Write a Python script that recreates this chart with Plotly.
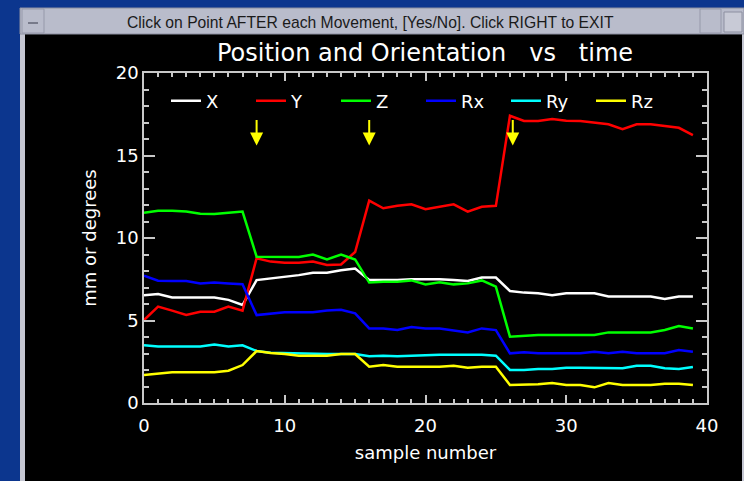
import plotly.graph_objects as go

samples = list(range(40))
pos_x = [6.53, 6.6, 6.4, 6.4, 6.4, 6.4, 6.25, 5.94, 7.45, 7.55, 7.65, 7.75, 7.9, 7.9, 8.05, 8.15,
         7.45, 7.45, 7.45, 7.5, 7.5, 7.5, 7.45, 7.4, 7.6, 7.6, 6.79, 6.69, 6.65, 6.53, 6.65, 6.65,
         6.65, 6.45, 6.45, 6.45, 6.45, 6.3, 6.45, 6.45]
pos_y = [5.03, 5.84, 5.6, 5.33, 5.53, 5.53, 5.84, 5.6, 8.77, 8.57, 8.5, 8.5, 8.57, 8.36, 8.4, 9.15,
         12.26, 11.8, 11.95, 12.04, 11.74, 11.89, 12.04, 11.6, 11.89, 11.95, 17.41, 17.09, 17.09,
         17.21, 17.11, 17.09, 16.99, 16.89, 16.6, 16.89, 16.89, 16.8, 16.68, 16.24]
pos_z = [11.53, 11.65, 11.65, 11.6, 11.47, 11.45, 11.53, 11.6, 8.87, 8.85, 8.85, 8.85, 9.0, 8.7, 9.0, 8.7,
         7.3, 7.35, 7.35, 7.43, 7.19, 7.32, 7.19, 7.25, 7.43, 7.05, 4.02, 4.08, 4.12, 4.12, 4.12, 4.12,
         4.12, 4.28, 4.28, 4.28, 4.28, 4.42, 4.67, 4.52]
rot_x = [7.72, 7.41, 7.4, 7.4, 7.25, 7.3, 7.25, 7.2, 5.33, 5.43, 5.5, 5.5, 5.5, 5.6, 5.65, 5.43,
         4.52, 4.52, 4.42, 4.6, 4.52, 4.52, 4.42, 4.28, 4.52, 4.42, 3.01, 3.07, 3.01, 3.01, 3.01, 3.01,
         3.11, 3.01, 3.11, 3.01, 3.01, 3.01, 3.21, 3.11]
rot_y = [3.5, 3.42, 3.42, 3.42, 3.42, 3.54, 3.42, 3.5, 3.15, 3.05, 3.03, 2.97, 2.97, 2.97, 2.97, 2.97,
         2.83, 2.87, 2.83, 2.87, 2.93, 2.93, 2.93, 2.93, 2.93, 2.87, 2.0, 2.0, 2.06, 2.06, 2.14, 2.14,
         2.14, 2.14, 2.1, 2.26, 2.26, 2.1, 2.06, 2.18]
rot_z = [1.7, 1.76, 1.86, 1.86, 1.86, 1.86, 1.96, 2.3, 3.15, 3.03, 2.97, 2.87, 2.87, 2.87, 2.97, 2.97,
         2.2, 2.3, 2.2, 2.2, 2.2, 2.2, 2.26, 2.14, 2.2, 2.2, 1.09, 1.09, 1.13, 1.21, 1.09, 1.09,
         0.95, 1.21, 1.09, 1.09, 1.09, 1.17, 1.17, 1.09]

series_names = ["X", "Y", "Z", "Rx", "Ry", "Rz"]
series_values = [pos_x, pos_y, pos_z, rot_x, rot_y, rot_z]
series_colors = ["#ffffff", "#ff0000", "#00ff00", "#0000ff", "#00ffff", "#ffff00"]

movement_samples = [8, 16, 26.2]
arrow_top, arrow_tip = 17.25, 15.6

W, H = 744, 481
L, R, T, B = 144, 37, 73, 78
pw, ph = W - L - R, H - T - B

def px(x):
    return (x - L) / pw

def py(y):
    return (H - B - y) / ph

fig = go.Figure()
for name, vals, col in zip(series_names, series_values, series_colors):
    fig.add_trace(go.Scatter(x=samples, y=vals, mode="lines", name=name,
                             line=dict(color=col, width=2.5)))

for s in movement_samples:
    fig.add_annotation(x=s, y=arrow_tip, ax=s, ay=arrow_top, xref="x", yref="y",
                       axref="x", ayref="y", text="", showarrow=True,
                       arrowhead=2, arrowsize=1.3, arrowwidth=2, arrowcolor="#ffff00")

shapes = [
    # window frame
    dict(type="rect", xref="paper", yref="paper", x0=px(20), x1=px(744), y0=py(481), y1=py(8),
         fillcolor="#c4c6d2", line=dict(width=0), layer="below"),
    dict(type="rect", xref="paper", yref="paper", x0=px(25), x1=px(742), y0=py(481), y1=py(34),
         fillcolor="#000000", line=dict(width=0), layer="below"),
    dict(type="rect", xref="paper", yref="paper", x0=px(20), x1=px(744), y0=py(34), y1=py(8),
         fillcolor="#b9bccb", line=dict(color="#8c8fa0", width=1), layer="below"),
    dict(type="rect", xref="paper", yref="paper", x0=px(22), x1=px(44), y0=py(33), y1=py(9),
         fillcolor="#b9bccb", line=dict(color="#9699aa", width=1), layer="below"),
    dict(type="line", xref="paper", yref="paper", x0=px(28), x1=px(38), y0=py(23), y1=py(23),
         line=dict(color="#777a8a", width=2), layer="below"),
    dict(type="rect", xref="paper", yref="paper", x0=px(700), x1=px(721), y0=py(33), y1=py(9),
         fillcolor="#b9bccb", line=dict(color="#9699aa", width=1), layer="below"),
    dict(type="rect", xref="paper", yref="paper", x0=px(724), x1=px(742), y0=py(32), y1=py(12),
         fillcolor="#c8cad6", line=dict(color="#8c8fa0", width=1), layer="below"),
]

fig.add_annotation(x=px(370), y=py(22), xref="paper", yref="paper", showarrow=False,
                   xanchor="center", yanchor="middle",
                   text="Click on Point AFTER each Movement, [Yes/No]. Click RIGHT to EXIT",
                   font=dict(family="Liberation Sans", size=15.7, color="#1a1a1a"))

axis_font = dict(family="DejaVu Sans", size=18, color="#ffffff")

fig.update_layout(
    width=W, height=H,
    margin=dict(l=L, r=R, t=T, b=B, autoexpand=False),
    paper_bgcolor="#0c368e",
    plot_bgcolor="#000000",
    shapes=shapes,
    title=dict(text="Position and Orientation   vs   time", xref="container", yref="container",
               x=425 / W, xanchor="center", y=1 - 53 / H, yanchor="middle",
               font=dict(family="DejaVu Sans", size=24, color="#ffffff")),
    showlegend=True,
    legend=dict(orientation="h", x=px(166), y=py(101), xanchor="left", yanchor="middle",
                bgcolor="rgba(0,0,0,0)", font=dict(family="DejaVu Sans", size=18, color="#ffffff"),
                entrywidth=40, entrywidthmode="pixels", itemclick=False),
    xaxis=dict(range=[0, 40], dtick=10, tick0=0, ticks="inside", ticklen=8, tickwidth=1.5,
               tickcolor="#c8c8c8", showline=True, linecolor="#c8c8c8", linewidth=1.5,
               mirror="ticks", showgrid=False, zeroline=False, tickfont=axis_font,
               ticklabelstandoff=6,
               minor=dict(dtick=1, ticks="inside", ticklen=4, tickcolor="#c8c8c8", showgrid=False),
               title=dict(text="sample number", font=axis_font, standoff=11)),
    yaxis=dict(range=[0, 20], dtick=5, tick0=0, ticks="inside", ticklen=11, tickwidth=1.5,
               tickcolor="#c8c8c8", showline=True, linecolor="#c8c8c8", linewidth=1.5,
               mirror="ticks", showgrid=False, zeroline=False, tickfont=axis_font,
               minor=dict(dtick=1, ticks="inside", ticklen=5, tickcolor="#c8c8c8", showgrid=False),
               title=dict(text="mm or degrees", font=axis_font, standoff=14)),
)

fig.write_html("out.html", config={"displayModeBar": False},
               post_script="document.body.style.margin='0';document.body.style.background='#0c368e';")
